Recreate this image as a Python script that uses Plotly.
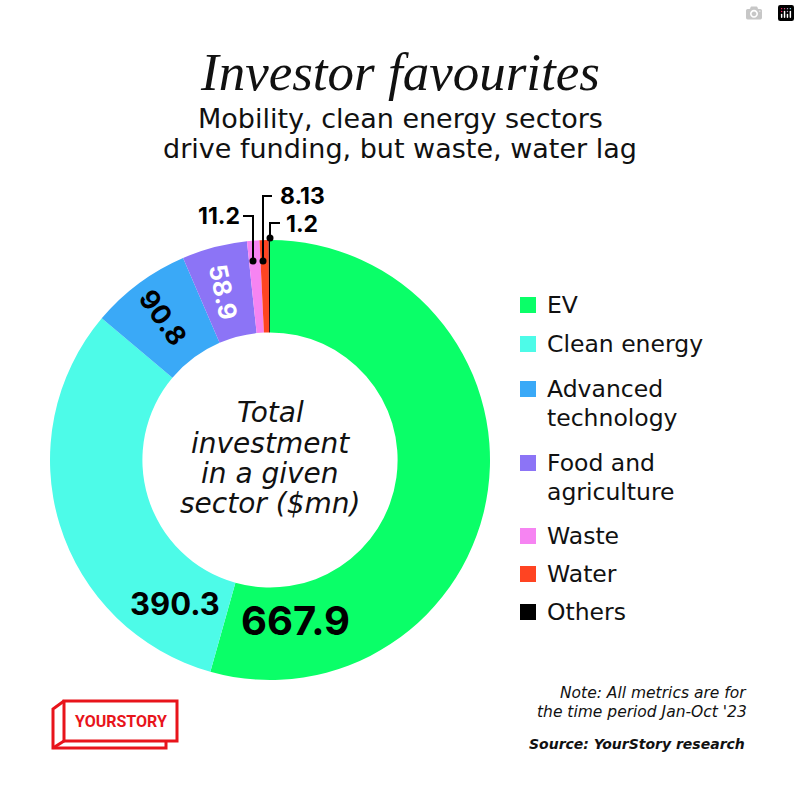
import plotly.graph_objects as go

# ---- data ----
sectors = ["EV", "Clean energy", "Advanced technology", "Food and agriculture", "Waste", "Water", "Others"]
legend_lines = [["EV"], ["Clean energy"], ["Advanced", "technology"], ["Food and", "agriculture"],
                ["Waste"], ["Water"], ["Others"]]
values = [667.9, 390.3, 90.8, 58.9, 11.2, 8.13, 1.2]
colors = ["#0AFF68", "#4DFBE8", "#3AA9F7", "#8C74F6", "#F684F2", "#FF4422", "#000000"]

title = "Investor favourites"
subtitle_lines = ["Mobility, clean energy sectors", "drive funding, but waste, water lag"]
centre_lines = ["Total", "investment", "in a given", "sector ($mn)"]
note_lines = ["Note: All metrics are for", "the time period Jan-Oct '23"]
source = "Source: YourStory research"

W = H = 800
FONT = "DejaVu Sans"
NUMFONT = "Inter"

def px(x):
    return x / W

def py(y):
    return 1 - y / H

fig = go.Figure()
fig.add_trace(go.Pie(
    labels=sectors, values=values, sort=False, direction="clockwise",
    hole=0.58, marker=dict(colors=colors, line=dict(width=0)),
    textinfo="none", hoverinfo="label+value", showlegend=False,
    domain=dict(x=[px(50), px(490)], y=[py(680), py(240)]),
))

ann = []
shapes = []

def text(t, x, y, size, color="#111", family=FONT, xa="center", ya="middle", align="center", angle=0):
    ann.append(dict(text=t, x=px(x), y=py(y), xref="paper", yref="paper", xanchor=xa, yanchor=ya,
                    align=align, showarrow=False, textangle=angle,
                    font=dict(family=family, size=size, color=color)))

# titles
text("<i>%s</i>" % title, 400, 72, 53, family="Liberation Serif")
for line, y in zip(subtitle_lines, [119, 148]):
    text(line, 400, y, 27)

# centre text
for line, y in zip(centre_lines, [412, 443, 473, 503]):
    text("<i>%s</i>" % line, 270, y, 28)

# in-slice value labels
inside = [
    (0, 295, 620, 0, 40, "#000"),
    (1, 175, 603, 0, 31, "#000"),
    (2, 163, 317, 55, 27, "#000"),
    (3, 223, 292, 78, 25, "#fff"),
]
for i, x, y, ang, sz, col in inside:
    text("<b>%s</b>" % values[i], x, y, sz, color=col, angle=ang, family=NUMFONT)

# outside labels with leaders
outside = [
    (4, 242, 216, "right", [(243, 216), (253, 216), (253, 261)]),
    (5, 278, 196, "left", [(272, 196), (263, 196), (263, 261)]),
    (6, 284, 224, "left", [(280, 223), (270, 223), (270, 238)]),
]
for i, x, y, anchor, pts in outside:
    text("<b>%s</b>" % values[i], x, y, 23, color="#000", xa=anchor, family=NUMFONT)
    path = "M %f %f" % (px(pts[0][0]), py(pts[0][1]))
    for (a, b) in pts[1:]:
        path += " L %f %f" % (px(a), py(b))
    shapes.append(dict(type="path", path=path, xref="paper", yref="paper",
                       line=dict(color="#000", width=2)))
    ex, ey = pts[-1]
    shapes.append(dict(type="circle", xref="paper", yref="paper",
                       x0=px(ex - 3.5), x1=px(ex + 3.5), y0=py(ey + 3.5), y1=py(ey - 3.5),
                       fillcolor="#000", line=dict(width=0)))

# custom legend
legend_y = [305, 344, 389, 463, 536, 574, 612]
for lines, col, y in zip(legend_lines, colors, legend_y):
    shapes.append(dict(type="rect", xref="paper", yref="paper",
                       x0=px(520), x1=px(536), y0=py(y + 8), y1=py(y - 8),
                       fillcolor=col, line=dict(width=0)))
    for k, line in enumerate(lines):
        text(line, 545, y + 29 * k, 23.5, xa="left")

# notes
for line, y in zip(note_lines, [693, 712]):
    text("<i>%s</i>" % line, 749, y, 15.5, xa="right")
text("<b><i>%s</i></b>" % source, 747, 744, 14, xa="right")

# logo
red = "#E8141B"
shapes.append(dict(type="rect", xref="paper", yref="paper", x0=px(64), x1=px(177), y0=py(741), y1=py(701),
                   line=dict(color=red, width=3)))
logo_path = [(64, 701), (53, 709), (53, 748), (166, 748), (166, 741)]
p = "M %f %f" % (px(logo_path[0][0]), py(logo_path[0][1]))
for a, b in logo_path[1:]:
    p += " L %f %f" % (px(a), py(b))
shapes.append(dict(type="path", path=p, xref="paper", yref="paper", line=dict(color=red, width=3)))
shapes.append(dict(type="line", xref="paper", yref="paper", x0=px(64), x1=px(53), y0=py(741), y1=py(748),
                   line=dict(color=red, width=3)))
text("<b>YOURSTORY</b>", 121, 721, 16, color=red, family="Roboto")

fig.update_layout(width=W, height=H, margin=dict(l=0, r=0, t=0, b=0),
                  paper_bgcolor="white", plot_bgcolor="white",
                  annotations=ann, shapes=shapes, showlegend=False)
fig.write_html("out.html", post_script="document.body.style.margin='0';")
